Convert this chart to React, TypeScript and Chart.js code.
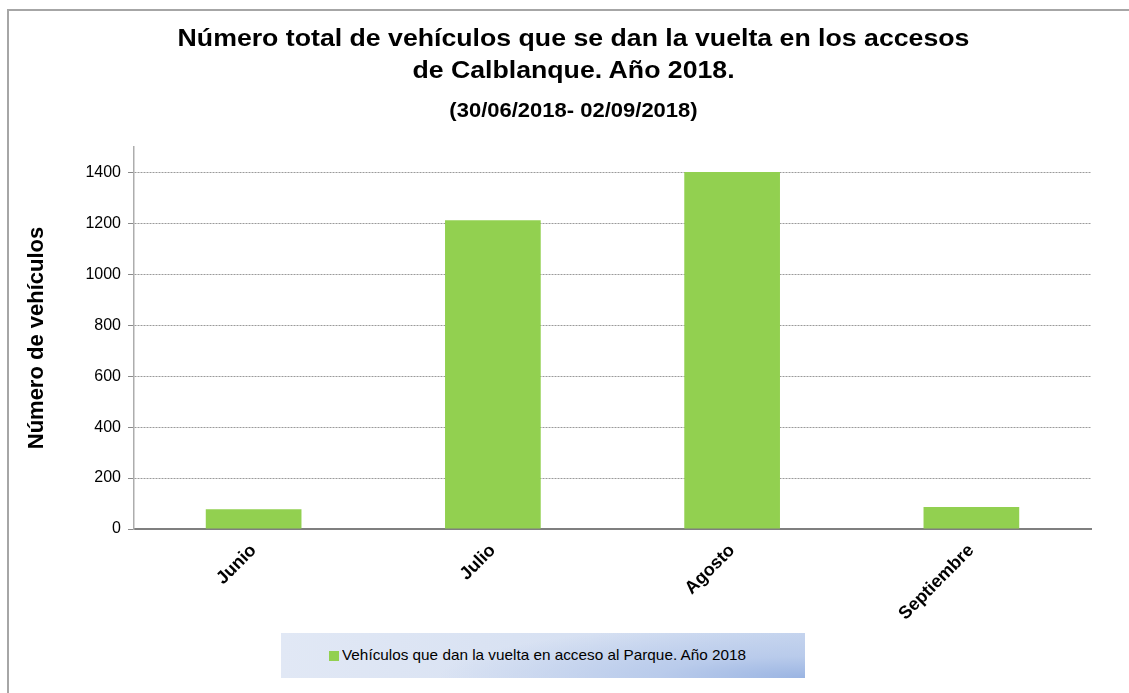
import React, { useEffect, useRef } from "react";
import { Chart, registerables } from "chart.js";

Chart.register(...registerables);

const categories: string[] = ["Junio", "Julio", "Agosto", "Septiembre"];
const vehicleValues: number[] = [78, 1212, 1402, 86];
const seriesLabel = "Vehículos que dan la vuelta en acceso al Parque. Año 2018";
const titleLines: string[] = [
  "Número total de vehículos que se dan la vuelta en los accesos",
  "de Calblanque. Año 2018.",
];
const subtitleText = "(30/06/2018- 02/09/2018)";
const yAxisTitle = "Número de vehículos";

const FONT = "'Liberation Sans', Arial, Helvetica, sans-serif";
const BAR_COLOR = "#92D050";

export default function App() {
  const canvasRef = useRef<HTMLCanvasElement | null>(null);

  useEffect(() => {
    const canvas = canvasRef.current;
    if (!canvas) return;
    const chart = new Chart(canvas, {
      type: "bar",
      data: {
        labels: categories,
        datasets: [
          {
            label: seriesLabel,
            data: vehicleValues,
            backgroundColor: BAR_COLOR,
            borderWidth: 0,
            barPercentage: 0.4,
            categoryPercentage: 1.0,
          },
        ],
      },
      options: {
        animation: false,
        responsive: false,
        maintainAspectRatio: false,
        layout: { padding: { top: 147, right: 38, bottom: 64, left: 0 } },
        plugins: {
          legend: { display: false },
          title: { display: false },
          tooltip: { enabled: false },
        },
        scales: {
          x: {
            offset: true,
            grid: { display: false, drawTicks: false },
            border: { display: true, color: "#7f7f7f", width: 2 },
            ticks: {
              minRotation: 45,
              maxRotation: 45,
              padding: 11,
              color: "#000",
              font: { family: FONT, size: 18, weight: "bold" },
            },
            afterFit: (scale: any) => {
              scale.height = 100;
            },
          },
          y: {
            min: 0,
            max: 1500,
            ticks: {
              stepSize: 200,
              padding: 7,
              color: "#000",
              font: { family: FONT, size: 16 },
              callback: (v: any) => String(v),
            },
            afterBuildTicks: (scale: any) => {
              scale.ticks = scale.ticks.filter((t: any) => t.value <= 1400);
            },
            grid: {
              color: "#9a9a9a",
              lineWidth: 1,
              tickLength: 6,
              tickColor: "#8a8a8a",
              tickBorderDash: [],
            },
            border: { display: true, color: "#adadad", width: 1.5, dash: [2, 1] },
            title: {
              display: true,
              text: yAxisTitle,
              color: "#000",
              font: { family: FONT, size: 22, weight: "bold" },
              padding: { top: 24, bottom: 0 },
            },
            afterFit: (scale: any) => {
              scale.width = 134;
            },
          },
        },
      },
    } as any);
    return () => chart.destroy();
  }, []);

  return (
    <div>
      <div
        style={{
          position: "absolute",
          left: 7,
          top: 9,
          width: 1122,
          height: 684,
          boxSizing: "border-box",
          borderLeft: "2px solid #a6a6a6",
          borderTop: "2px solid #a6a6a6",
        }}
      />
      <canvas
        ref={canvasRef}
        width={1129}
        height={693}
        style={{ position: "absolute", left: 0, top: 0, width: 1129, height: 693 }}
      />
      <div
        style={{
          position: "absolute",
          left: 0,
          top: 22,
          width: 1147,
          textAlign: "center",
          fontFamily: FONT,
          fontWeight: "bold",
          fontSize: 23,
          lineHeight: "32px",
          color: "#000",
          transform: "scaleX(1.16)",
          transformOrigin: "573.5px 0",
        }}
      >
        {titleLines.map((l, i) => (
          <div key={i}>{l}</div>
        ))}
      </div>
      <div
        style={{
          position: "absolute",
          left: 0,
          top: 97,
          width: 1147,
          textAlign: "center",
          fontFamily: FONT,
          fontWeight: "bold",
          fontSize: 20,
          lineHeight: "26px",
          color: "#000",
          transform: "scaleX(1.1)",
          transformOrigin: "573.5px 0",
        }}
      >
        {subtitleText}
      </div>
      <div
        style={{
          position: "absolute",
          left: 281,
          top: 633,
          width: 524,
          height: 45,
          background:
            "radial-gradient(ellipse 70% 120% at 100% 100%, #9ab4e2 0%, #b9cbeb 40%, rgba(223,230,244,0) 100%), linear-gradient(90deg, #e1e8f5 0%, #d6e0f2 60%, #c9d7ef 100%)",
          fontFamily: FONT,
          fontSize: 15,
          color: "#000",
        }}
      >
        <div
          style={{
            position: "absolute",
            left: 48,
            top: 18,
            width: 10,
            height: 10,
            background: BAR_COLOR,
          }}
        />
        <div
          style={{
            position: "absolute",
            left: 61,
            top: 13,
            whiteSpace: "nowrap",
            lineHeight: "18px",
            transform: "scaleX(1.02)",
            transformOrigin: "0 0",
          }}
        >
          {seriesLabel}
        </div>
      </div>
    </div>
  );
}
